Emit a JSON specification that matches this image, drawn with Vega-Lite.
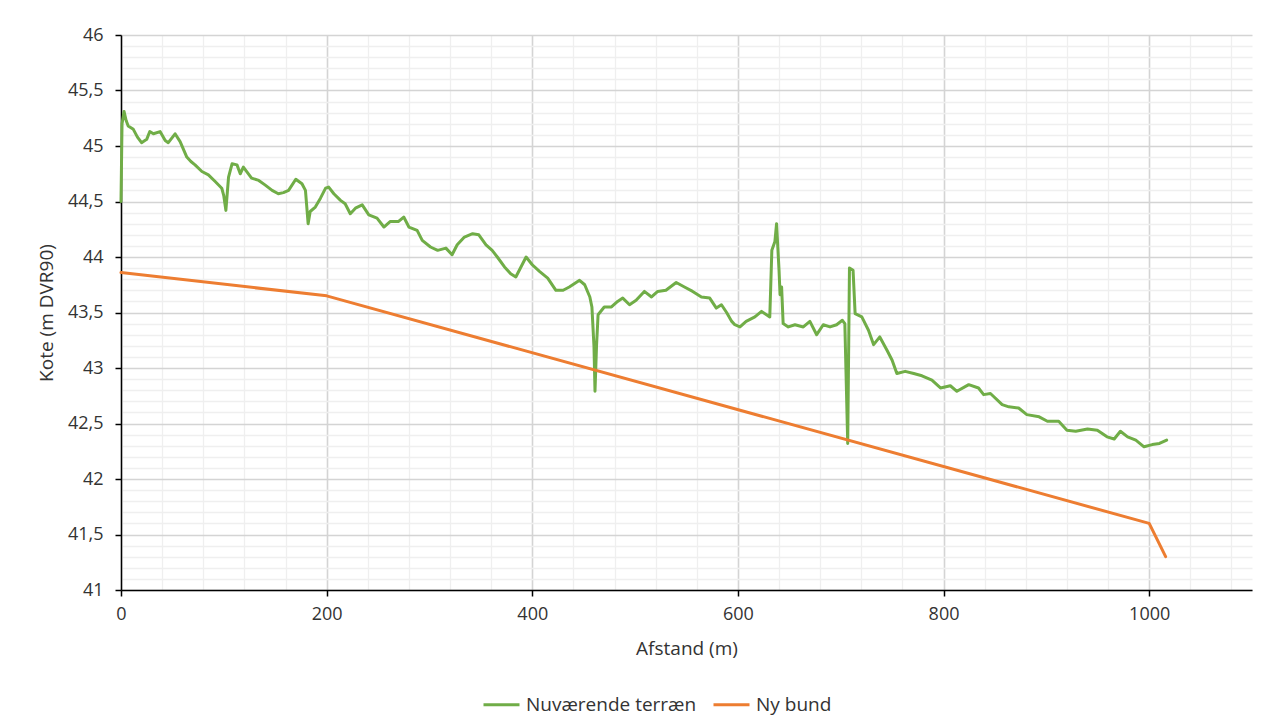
{
  "$schema": "https://vega.github.io/schema/vega-lite/v6.json",
  "width": 1131,
  "height": 555,
  "autosize": {"type": "none"},
  "padding": {"left": 121, "top": 35, "right": 33, "bottom": 138},
  "background": "white",
  "config": {
    "view": {"stroke": null},
    "font": "Open Sans",
    "axis": {"labelFont": "Open Sans", "titleFont": "Open Sans", "labelFontSize": 18, "titleFontSize": 19, "labelColor": "#333333", "titleColor": "#333333", "titleFontWeight": "normal"},
    "legend": {"labelFont": "Open Sans", "labelFontSize": 19, "labelColor": "#333333", "labelLimit": 400}
  },
  "data": {
    "values": [
      {"afstand": 0, "kote": 44.5, "serie": "Nuværende terræn"},
      {"afstand": 1, "kote": 45.2, "serie": "Nuværende terræn"},
      {"afstand": 3, "kote": 45.31, "serie": "Nuværende terræn"},
      {"afstand": 5, "kote": 45.23, "serie": "Nuværende terræn"},
      {"afstand": 7, "kote": 45.18, "serie": "Nuværende terræn"},
      {"afstand": 12, "kote": 45.15, "serie": "Nuværende terræn"},
      {"afstand": 16, "kote": 45.08, "serie": "Nuværende terræn"},
      {"afstand": 20, "kote": 45.03, "serie": "Nuværende terræn"},
      {"afstand": 25, "kote": 45.06, "serie": "Nuværende terræn"},
      {"afstand": 28, "kote": 45.13, "serie": "Nuværende terræn"},
      {"afstand": 31.5, "kote": 45.11, "serie": "Nuværende terræn"},
      {"afstand": 38, "kote": 45.13, "serie": "Nuværende terræn"},
      {"afstand": 43, "kote": 45.05, "serie": "Nuværende terræn"},
      {"afstand": 46, "kote": 45.03, "serie": "Nuværende terræn"},
      {"afstand": 52.6, "kote": 45.11, "serie": "Nuværende terræn"},
      {"afstand": 57.5, "kote": 45.04, "serie": "Nuværende terræn"},
      {"afstand": 64, "kote": 44.9, "serie": "Nuværende terræn"},
      {"afstand": 68, "kote": 44.86, "serie": "Nuværende terræn"},
      {"afstand": 72, "kote": 44.83, "serie": "Nuværende terræn"},
      {"afstand": 78.7, "kote": 44.77, "serie": "Nuværende terræn"},
      {"afstand": 85, "kote": 44.74, "serie": "Nuværende terræn"},
      {"afstand": 91.6, "kote": 44.68, "serie": "Nuværende terræn"},
      {"afstand": 98, "kote": 44.62, "serie": "Nuværende terræn"},
      {"afstand": 100, "kote": 44.55, "serie": "Nuværende terræn"},
      {"afstand": 102, "kote": 44.42, "serie": "Nuværende terræn"},
      {"afstand": 104.6, "kote": 44.72, "serie": "Nuværende terræn"},
      {"afstand": 108, "kote": 44.84, "serie": "Nuværende terræn"},
      {"afstand": 112.8, "kote": 44.83, "serie": "Nuværende terræn"},
      {"afstand": 116, "kote": 44.75, "serie": "Nuværende terræn"},
      {"afstand": 119, "kote": 44.81, "serie": "Nuværende terræn"},
      {"afstand": 127, "kote": 44.71, "serie": "Nuværende terræn"},
      {"afstand": 134, "kote": 44.69, "serie": "Nuværende terræn"},
      {"afstand": 140, "kote": 44.65, "serie": "Nuværende terræn"},
      {"afstand": 147, "kote": 44.6, "serie": "Nuværende terræn"},
      {"afstand": 153, "kote": 44.57, "serie": "Nuværende terræn"},
      {"afstand": 158, "kote": 44.58, "serie": "Nuværende terræn"},
      {"afstand": 163, "kote": 44.6, "serie": "Nuværende terræn"},
      {"afstand": 170, "kote": 44.7, "serie": "Nuværende terræn"},
      {"afstand": 176, "kote": 44.66, "serie": "Nuværende terræn"},
      {"afstand": 179.4, "kote": 44.6, "serie": "Nuværende terræn"},
      {"afstand": 182, "kote": 44.3, "serie": "Nuværende terræn"},
      {"afstand": 184, "kote": 44.41, "serie": "Nuværende terræn"},
      {"afstand": 189, "kote": 44.45, "serie": "Nuværende terræn"},
      {"afstand": 194, "kote": 44.53, "serie": "Nuværende terræn"},
      {"afstand": 199, "kote": 44.62, "serie": "Nuværende terræn"},
      {"afstand": 202, "kote": 44.63, "serie": "Nuværende terræn"},
      {"afstand": 207, "kote": 44.57, "serie": "Nuværende terræn"},
      {"afstand": 213.5, "kote": 44.51, "serie": "Nuværende terræn"},
      {"afstand": 218, "kote": 44.48, "serie": "Nuværende terræn"},
      {"afstand": 223, "kote": 44.39, "serie": "Nuværende terræn"},
      {"afstand": 228, "kote": 44.44, "serie": "Nuværende terræn"},
      {"afstand": 234.6, "kote": 44.47, "serie": "Nuværende terræn"},
      {"afstand": 241, "kote": 44.38, "serie": "Nuværende terræn"},
      {"afstand": 249, "kote": 44.35, "serie": "Nuværende terræn"},
      {"afstand": 255.7, "kote": 44.27, "serie": "Nuværende terræn"},
      {"afstand": 262, "kote": 44.32, "serie": "Nuværende terræn"},
      {"afstand": 270, "kote": 44.32, "serie": "Nuværende terræn"},
      {"afstand": 275, "kote": 44.36, "serie": "Nuværende terræn"},
      {"afstand": 280, "kote": 44.27, "serie": "Nuværende terræn"},
      {"afstand": 288, "kote": 44.24, "serie": "Nuværende terræn"},
      {"afstand": 293, "kote": 44.15, "serie": "Nuværende terræn"},
      {"afstand": 301, "kote": 44.09, "serie": "Nuværende terræn"},
      {"afstand": 308, "kote": 44.06, "serie": "Nuværende terræn"},
      {"afstand": 316, "kote": 44.08, "serie": "Nuværende terræn"},
      {"afstand": 322, "kote": 44.02, "serie": "Nuværende terræn"},
      {"afstand": 327, "kote": 44.11, "serie": "Nuværende terræn"},
      {"afstand": 334, "kote": 44.18, "serie": "Nuværende terræn"},
      {"afstand": 342, "kote": 44.21, "serie": "Nuværende terræn"},
      {"afstand": 348, "kote": 44.2, "serie": "Nuværende terræn"},
      {"afstand": 355, "kote": 44.11, "serie": "Nuværende terræn"},
      {"afstand": 361, "kote": 44.06, "serie": "Nuværende terræn"},
      {"afstand": 366, "kote": 44.0, "serie": "Nuværende terræn"},
      {"afstand": 373, "kote": 43.91, "serie": "Nuværende terræn"},
      {"afstand": 379, "kote": 43.85, "serie": "Nuværende terræn"},
      {"afstand": 384, "kote": 43.82, "serie": "Nuværende terræn"},
      {"afstand": 389, "kote": 43.91, "serie": "Nuværende terræn"},
      {"afstand": 394, "kote": 44.0, "serie": "Nuværende terræn"},
      {"afstand": 400, "kote": 43.93, "serie": "Nuværende terræn"},
      {"afstand": 407, "kote": 43.87, "serie": "Nuværende terræn"},
      {"afstand": 415, "kote": 43.81, "serie": "Nuværende terræn"},
      {"afstand": 423, "kote": 43.7, "serie": "Nuværende terræn"},
      {"afstand": 430, "kote": 43.7, "serie": "Nuværende terræn"},
      {"afstand": 436, "kote": 43.73, "serie": "Nuværende terræn"},
      {"afstand": 446, "kote": 43.79, "serie": "Nuværende terræn"},
      {"afstand": 451, "kote": 43.75, "serie": "Nuværende terræn"},
      {"afstand": 456, "kote": 43.64, "serie": "Nuværende terræn"},
      {"afstand": 458, "kote": 43.55, "serie": "Nuværende terræn"},
      {"afstand": 460, "kote": 43.2, "serie": "Nuværende terræn"},
      {"afstand": 461, "kote": 42.79, "serie": "Nuværende terræn"},
      {"afstand": 462.5, "kote": 43.2, "serie": "Nuværende terræn"},
      {"afstand": 464, "kote": 43.48, "serie": "Nuværende terræn"},
      {"afstand": 470, "kote": 43.55, "serie": "Nuværende terræn"},
      {"afstand": 477, "kote": 43.55, "serie": "Nuværende terræn"},
      {"afstand": 483, "kote": 43.6, "serie": "Nuværende terræn"},
      {"afstand": 488, "kote": 43.63, "serie": "Nuværende terræn"},
      {"afstand": 494.6, "kote": 43.57, "serie": "Nuværende terræn"},
      {"afstand": 501, "kote": 43.61, "serie": "Nuværende terræn"},
      {"afstand": 509, "kote": 43.69, "serie": "Nuværende terræn"},
      {"afstand": 516, "kote": 43.64, "serie": "Nuværende terræn"},
      {"afstand": 522, "kote": 43.69, "serie": "Nuværende terræn"},
      {"afstand": 530, "kote": 43.7, "serie": "Nuværende terræn"},
      {"afstand": 540, "kote": 43.77, "serie": "Nuværende terræn"},
      {"afstand": 548, "kote": 43.73, "serie": "Nuværende terræn"},
      {"afstand": 556, "kote": 43.69, "serie": "Nuværende terræn"},
      {"afstand": 564.5, "kote": 43.64, "serie": "Nuværende terræn"},
      {"afstand": 572.6, "kote": 43.63, "serie": "Nuværende terræn"},
      {"afstand": 579, "kote": 43.54, "serie": "Nuværende terræn"},
      {"afstand": 584, "kote": 43.57, "serie": "Nuværende terræn"},
      {"afstand": 589, "kote": 43.5, "serie": "Nuværende terræn"},
      {"afstand": 594, "kote": 43.42, "serie": "Nuværende terræn"},
      {"afstand": 597, "kote": 43.39, "serie": "Nuværende terræn"},
      {"afstand": 602, "kote": 43.37, "serie": "Nuværende terræn"},
      {"afstand": 608, "kote": 43.42, "serie": "Nuværende terræn"},
      {"afstand": 616.5, "kote": 43.46, "serie": "Nuværende terræn"},
      {"afstand": 623, "kote": 43.51, "serie": "Nuværende terræn"},
      {"afstand": 631, "kote": 43.46, "serie": "Nuværende terræn"},
      {"afstand": 633, "kote": 44.06, "serie": "Nuværende terræn"},
      {"afstand": 636, "kote": 44.14, "serie": "Nuværende terræn"},
      {"afstand": 637.6, "kote": 44.3, "serie": "Nuværende terræn"},
      {"afstand": 640, "kote": 43.88, "serie": "Nuværende terræn"},
      {"afstand": 641, "kote": 43.66, "serie": "Nuværende terræn"},
      {"afstand": 642.5, "kote": 43.73, "serie": "Nuværende terræn"},
      {"afstand": 644, "kote": 43.4, "serie": "Nuværende terræn"},
      {"afstand": 649, "kote": 43.37, "serie": "Nuværende terræn"},
      {"afstand": 655.5, "kote": 43.39, "serie": "Nuværende terræn"},
      {"afstand": 663.6, "kote": 43.37, "serie": "Nuværende terræn"},
      {"afstand": 670, "kote": 43.42, "serie": "Nuværende terræn"},
      {"afstand": 676.6, "kote": 43.3, "serie": "Nuværende terræn"},
      {"afstand": 683, "kote": 43.39, "serie": "Nuværende terræn"},
      {"afstand": 689.6, "kote": 43.37, "serie": "Nuværende terræn"},
      {"afstand": 696, "kote": 43.39, "serie": "Nuværende terræn"},
      {"afstand": 701.6, "kote": 43.43, "serie": "Nuværende terræn"},
      {"afstand": 704, "kote": 43.4, "serie": "Nuværende terræn"},
      {"afstand": 706.8, "kote": 42.32, "serie": "Nuværende terræn"},
      {"afstand": 708.5, "kote": 43.9, "serie": "Nuværende terræn"},
      {"afstand": 712, "kote": 43.88, "serie": "Nuværende terræn"},
      {"afstand": 714, "kote": 43.49, "serie": "Nuværende terræn"},
      {"afstand": 720.5, "kote": 43.46, "serie": "Nuværende terræn"},
      {"afstand": 727, "kote": 43.34, "serie": "Nuværende terræn"},
      {"afstand": 732, "kote": 43.21, "serie": "Nuværende terræn"},
      {"afstand": 738, "kote": 43.28, "serie": "Nuværende terræn"},
      {"afstand": 745, "kote": 43.16, "serie": "Nuværende terræn"},
      {"afstand": 750, "kote": 43.07, "serie": "Nuværende terræn"},
      {"afstand": 754.6, "kote": 42.95, "serie": "Nuværende terræn"},
      {"afstand": 762.7, "kote": 42.97, "serie": "Nuværende terræn"},
      {"afstand": 771, "kote": 42.95, "serie": "Nuværende terræn"},
      {"afstand": 779, "kote": 42.93, "serie": "Nuværende terræn"},
      {"afstand": 788.7, "kote": 42.89, "serie": "Nuværende terræn"},
      {"afstand": 797, "kote": 42.82, "serie": "Nuværende terræn"},
      {"afstand": 806.6, "kote": 42.84, "serie": "Nuværende terræn"},
      {"afstand": 813, "kote": 42.79, "serie": "Nuværende terræn"},
      {"afstand": 824.5, "kote": 42.85, "serie": "Nuværende terræn"},
      {"afstand": 834, "kote": 42.82, "serie": "Nuværende terræn"},
      {"afstand": 839, "kote": 42.76, "serie": "Nuværende terræn"},
      {"afstand": 845.6, "kote": 42.77, "serie": "Nuværende terræn"},
      {"afstand": 857, "kote": 42.67, "serie": "Nuværende terræn"},
      {"afstand": 863.5, "kote": 42.65, "serie": "Nuværende terræn"},
      {"afstand": 873, "kote": 42.64, "serie": "Nuværende terræn"},
      {"afstand": 881, "kote": 42.58, "serie": "Nuværende terræn"},
      {"afstand": 893, "kote": 42.56, "serie": "Nuværende terræn"},
      {"afstand": 901, "kote": 42.52, "serie": "Nuværende terræn"},
      {"afstand": 912, "kote": 42.52, "serie": "Nuværende terræn"},
      {"afstand": 920, "kote": 42.44, "serie": "Nuværende terræn"},
      {"afstand": 928.6, "kote": 42.43, "serie": "Nuværende terræn"},
      {"afstand": 940, "kote": 42.45, "serie": "Nuværende terræn"},
      {"afstand": 949.6, "kote": 42.44, "serie": "Nuværende terræn"},
      {"afstand": 959, "kote": 42.38, "serie": "Nuværende terræn"},
      {"afstand": 966, "kote": 42.36, "serie": "Nuværende terræn"},
      {"afstand": 972, "kote": 42.43, "serie": "Nuværende terræn"},
      {"afstand": 979, "kote": 42.38, "serie": "Nuværende terræn"},
      {"afstand": 987, "kote": 42.35, "serie": "Nuværende terræn"},
      {"afstand": 995, "kote": 42.29, "serie": "Nuværende terræn"},
      {"afstand": 1003, "kote": 42.31, "serie": "Nuværende terræn"},
      {"afstand": 1010, "kote": 42.32, "serie": "Nuværende terræn"},
      {"afstand": 1017, "kote": 42.35, "serie": "Nuværende terræn"},
      {"afstand": 0, "kote": 43.86, "serie": "Ny bund"},
      {"afstand": 200, "kote": 43.65, "serie": "Ny bund"},
      {"afstand": 1000, "kote": 41.6, "serie": "Ny bund"},
      {"afstand": 1016, "kote": 41.3, "serie": "Ny bund"}
    ]
  },
  "mark": {"type": "line", "strokeWidth": 3, "strokeJoin": "round", "strokeCap": "round"},
  "encoding": {
    "x": {
      "field": "afstand",
      "type": "quantitative",
      "scale": {"domain": [0, 1100], "nice": false, "zero": false},
      "axis": {
        "title": "Afstand (m)",
        "values": [0, 40, 80, 120, 160, 200, 240, 280, 320, 360, 400, 440, 480, 520, 560, 600, 640, 680, 720, 760, 800, 840, 880, 920, 960, 1000, 1040, 1080],
        "labelExpr": "datum.value % 200 === 0 ? datum.value : ''",
        "grid": true,
        "gridColor": {"condition": {"test": "datum.value % 200 === 0", "value": "#d4d4d4"}, "value": "#efefef"},
        "gridWidth": {"condition": {"test": "datum.value % 200 === 0", "value": 1.6}, "value": 1.3},
        "tickColor": "#000000",
        "tickOpacity": {"condition": {"test": "datum.value % 200 === 0", "value": 1}, "value": 0},
        "tickSize": 6,
        "tickWidth": 1.5,
        "domainColor": "#000000",
        "domainWidth": 1.5,
        "labelPadding": 9,
        "labelFlush": false,
        "labelOverlap": false,
        "titlePadding": 16
      }
    },
    "y": {
      "field": "kote",
      "type": "quantitative",
      "scale": {"domain": [41, 46], "nice": false, "zero": false},
      "axis": {
        "title": "Kote (m DVR90)",
        "values": [41, 41.1, 41.2, 41.3, 41.4, 41.5, 41.6, 41.7, 41.8, 41.9, 42, 42.1, 42.2, 42.3, 42.4, 42.5, 42.6, 42.7, 42.8, 42.9, 43, 43.1, 43.2, 43.3, 43.4, 43.5, 43.6, 43.7, 43.8, 43.9, 44, 44.1, 44.2, 44.3, 44.4, 44.5, 44.6, 44.7, 44.8, 44.9, 45, 45.1, 45.2, 45.3, 45.4, 45.5, 45.6, 45.7, 45.8, 45.9, 46],
        "labelExpr": "abs(datum.value * 2 - round(datum.value * 2)) < 0.001 ? replace(toString(datum.value), '.', ',') : ''",
        "grid": true,
        "gridColor": {"condition": {"test": "abs(datum.value * 2 - round(datum.value * 2)) < 0.001", "value": "#d4d4d4"}, "value": "#efefef"},
        "gridWidth": {"condition": {"test": "abs(datum.value * 2 - round(datum.value * 2)) < 0.001", "value": 1.6}, "value": 1.3},
        "tickColor": "#000000",
        "tickOpacity": {"condition": {"test": "abs(datum.value * 2 - round(datum.value * 2)) < 0.001", "value": 1}, "value": 0},
        "tickSize": 6,
        "tickWidth": 1.5,
        "domainColor": "#000000",
        "domainWidth": 1.5,
        "labelPadding": 12,
        "labelFlush": false,
        "labelOverlap": false,
        "titlePadding": 11
      }
    },
    "color": {
      "field": "serie",
      "type": "nominal",
      "sort": ["Nuværende terræn", "Ny bund"],
      "scale": {"domain": ["Nuværende terræn", "Ny bund"], "range": ["#70ad47", "#ed7d31"]},
      "legend": {
        "title": null,
        "orient": "none",
        "direction": "horizontal",
        "legendX": 361,
        "legendY": 650,
        "symbolType": "stroke",
        "symbolSize": 1296,
        "symbolStrokeWidth": 3,
        "labelOffset": 5,
        "columnPadding": 10
      }
    }
  }
}
